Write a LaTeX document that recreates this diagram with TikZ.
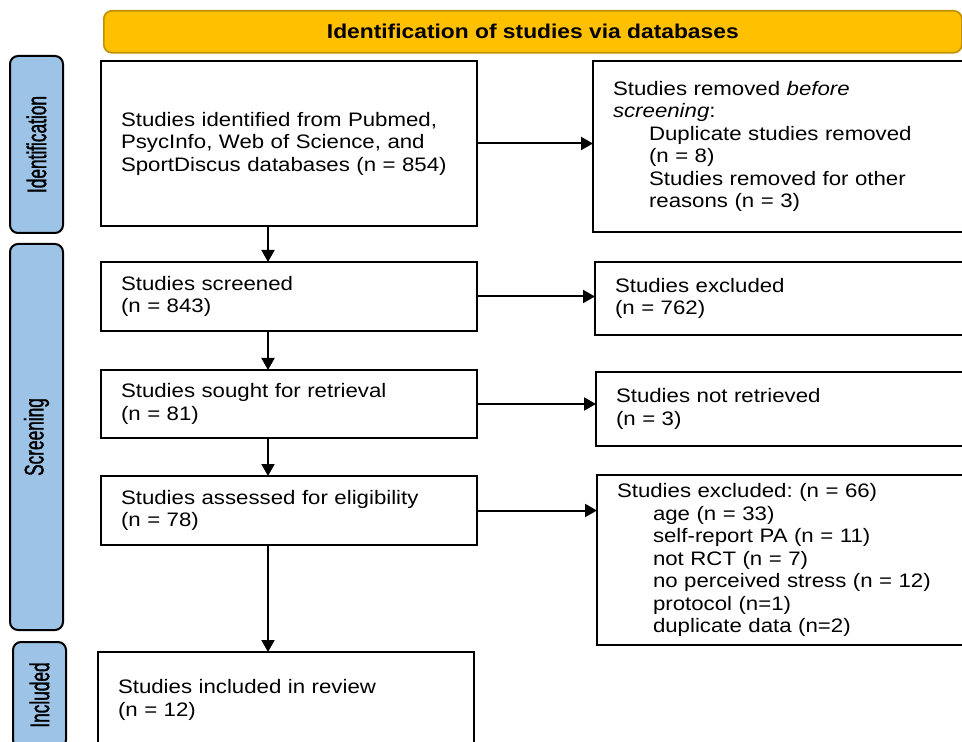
\documentclass[tikz,border=0pt]{standalone}
\usepackage{fontspec}
\setmainfont{Liberation Sans}[FakeStretch=1.14]
\newfontfamily\phasefont{Liberation Sans}[FakeStretch=0.64, FakeBold=1.2]
\usepackage{xcolor}
\usetikzlibrary{arrows.meta, positioning}
\definecolor{bannerfill}{HTML}{FFC000}
\definecolor{bannerdraw}{HTML}{BF9000}
\definecolor{phasefill}{HTML}{9DC3E6}
\newcommand{\ind}{\hspace*{18pt}}
\frenchspacing

\begin{document}
\begin{tikzpicture}[
  x=0.5pt, y=-0.5pt,
  every node/.style={font=\fontsize{9.75pt}{11.25pt}\selectfont},
  box/.style={draw, line width=1pt, text width=168pt, inner xsep=10pt, inner ysep=0pt, outer sep=0pt, align=left},
  sidebox/.style={box, text width=190pt},
  banner/.style={draw=bannerdraw, fill=bannerfill, line width=0.8pt, rounded corners=4pt, minimum width=429pt, minimum height=21pt, font=\fontsize{10pt}{11.5pt}\selectfont\bfseries},
  phase/.style={draw, fill=phasefill, line width=1pt, rounded corners=4pt, rotate=90, minimum height=26.5pt, inner sep=0pt, font=\phasefont\fontsize{13.5pt}{15pt}\selectfont},
  arr/.style={-{Triangle[length=6pt, width=6.5pt]}, line width=1pt}
]
  \useasboundingbox (0,0) rectangle (962,742);
  \clip (0,0) rectangle (962,742);

  \node[banner, anchor=north west] (banner) at (103,10) {Identification of studies via databases};

  % phase tabs
  \node[phase, minimum width=88.5pt] (idphase) at (36.5,144.5) {Identification};
  \node[phase, minimum width=193pt] (scphase) at (36.5,437) {Screening};
  \node[phase, minimum width=53pt] (inphase) at (39.5,695) {Included};

  % main column
  \node[box, minimum height=82.5pt, anchor=north west] (ident) at (101,61) {Studies identified from Pubmed,\\PsycInfo, Web of Science, and\\SportDiscus databases (n = 854)};
  \node[box, minimum height=34.5pt, below=18pt of ident] (screen) {Studies screened\\(n = 843)};
  \node[box, minimum height=34pt, below=19.5pt of screen] (sought) {Studies sought for retrieval\\(n = 81)};
  \node[box, minimum height=34.5pt, below=19pt of sought] (elig) {Studies assessed for eligibility\\(n = 78)};
  \node[box, minimum height=48pt, below=53.5pt of elig, xshift=-1.5pt] (incl) {Studies included in review\\(n = 12)};

  % side column
  \node[sidebox, minimum height=85.5pt, right=58pt of ident.north east, anchor=north west] (removed) {Studies removed \textit{before}\\\textit{screening}:\\\ind Duplicate studies removed\\\ind (n = 8)\\\ind Studies removed for other\\\ind reasons (n = 3)};
  \node[sidebox, minimum height=36.5pt, right=59pt of screen.north east, anchor=north west] (excl) {Studies excluded\\(n = 762)};
  \node[sidebox, minimum height=37pt, right=59.5pt of sought.north east, anchor=north west, yshift=-1pt] (notret) {Studies not retrieved\\(n = 3)};
  \node[sidebox, minimum height=85pt, right=60pt of elig.north east, anchor=north west, yshift=0.5pt] (reasons) {Studies excluded: (n = 66)\\\ind age (n = 33)\\\ind self-report PA (n = 11)\\\ind not RCT (n = 7)\\\ind no perceived stress (n = 12)\\\ind protocol (n=1)\\\ind duplicate data (n=2)};

  \coordinate (spine) at (268,0);
  \draw[arr] (ident.south -| spine) -- (screen.north -| spine);
  \draw[arr] (screen.south -| spine) -- (sought.north -| spine);
  \draw[arr] (sought.south -| spine) -- (elig.north -| spine);
  \draw[arr] (elig.south -| spine) -- (incl.north -| spine);

  \draw[arr] (ident.east) -- (ident.east -| removed.west);
  \draw[arr] (screen.east) -- (screen.east -| excl.west);
  \draw[arr] (sought.east) -- (sought.east -| notret.west);
  \draw[arr] (elig.east) -- (elig.east -| reasons.west);
\end{tikzpicture}
\end{document}
